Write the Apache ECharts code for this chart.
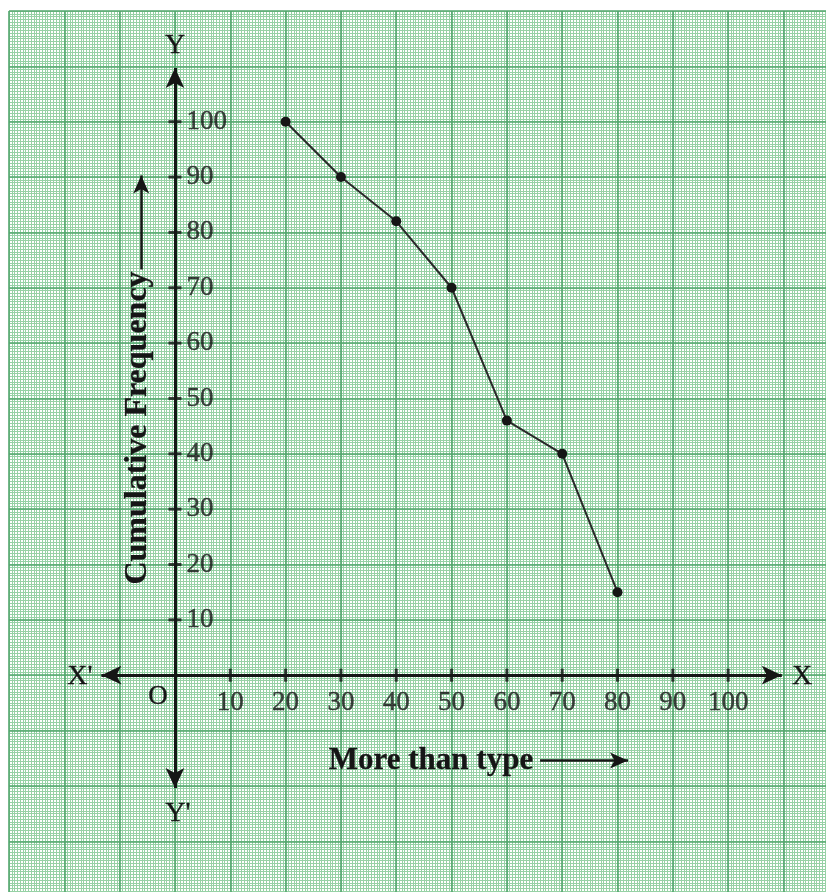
<!DOCTYPE html>
<html>
<head>
<meta charset="utf-8">
<script src="https://cdn.jsdelivr.net/npm/echarts@6/dist/echarts.min.js"></script>
<style>
html,body{margin:0;padding:0;background:#fff;}
#chart{width:826px;height:892px;}
</style>
</head>
<body>
<div id="chart"></div>
<script>
// ---- data ----
const moreThan = [20, 30, 40, 50, 60, 70, 80];
const cumulativeFrequency = [100, 90, 82, 70, 46, 40, 15];
const xTicks = [10, 20, 30, 40, 50, 60, 70, 80, 90, 100];
const yTicks = [10, 20, 30, 40, 50, 60, 70, 80, 90, 100];
const xTickLabels = ['10', '20', '30', '40', '50', '60', '70', '80', '90', '100'];
const yTickLabels = ['10', '20', '30', '40', '50', '60', '70', '80', '90', '100'];

const SERIF = '"Liberation Serif", "DejaVu Serif", serif';
const INK = '#161616';
const MINOR = '#96d1a5';
const MAJOR = '#52a66d';

const chart = echarts.init(document.getElementById('chart'), null, {renderer: 'canvas'});

function gridAxis(min, max, interval, color, width, z) {
  return {
    type: 'value', min: min, max: max, interval: interval, z: z,
    axisLine: {show: false}, axisTick: {show: false}, axisLabel: {show: false},
    splitLine: {show: true, lineStyle: {color: color, width: width}}
  };
}

function txt(x, y, s, font, rot) {
  return {
    type: 'text', x: x, y: y, z: 100, zlevel: 0, rotation: rot || 0, silent: true,
    style: {text: s, font: font, fill: INK, align: 'center', verticalAlign: 'middle',
            stroke: INK, lineWidth: 0.3}
  };
}

const tickLabelStyle = {
  fontFamily: SERIF, fontSize: 27, color: INK,
  textBorderColor: INK, textBorderWidth: 0.4
};

const option = {
  backgroundColor: '#ffffff',
  animation: false,
  grid: {left: 9, top: 11, width: 829.8, height: 885.6, containLabel: false, outerBoundsMode: 'none'},
  xAxis: [
    gridAxis(-30, 120, 0.5, MINOR, 1, 0),
    gridAxis(-30, 120, 10, MAJOR, 1.6, 1)
  ],
  yAxis: [
    gridAxis(-40, 120, 0.5, MINOR, 1, 0),
    gridAxis(-40, 120, 10, MAJOR, 1.6, 1)
  ],
  series: [
    {
      name: 'axes', type: 'line', data: [], z: 5, silent: true,
      markLine: {
        silent: true, animation: false,
        symbol: ['arrow', 'arrow'], symbolSize: [14, 20],
        label: {show: false},
        lineStyle: {color: INK, width: 3, type: 'solid'},
        data: [
          [{coord: [-13.3, 0]}, {coord: [109.7, 0]}],
          [{coord: [0, -20.4]}, {coord: [0, 109.7]}]
        ]
      }
    },
    {
      name: 'labelArrows', type: 'line', data: [], z: 5, silent: true,
      markLine: {
        silent: true, animation: false,
        symbol: ['none', 'arrow'], symbolSize: [12, 18],
        label: {show: false},
        lineStyle: {color: INK, width: 2.5, type: 'solid'},
        data: [
          [{coord: [-6.1, 73.3]}, {coord: [-6.1, 90.3]}],
          [{coord: [66, -15.4]}, {coord: [81.9, -15.4]}]
        ]
      }
    },
    {
      name: 'xTicks', type: 'scatter', z: 6, silent: true,
      data: xTicks.map(v => [v, 0]),
      symbol: 'rect', symbolSize: [3, 13],
      itemStyle: {color: INK},
      label: Object.assign({
        show: true, position: 'bottom', distance: 8,
        formatter: p => xTickLabels[p.dataIndex]
      }, tickLabelStyle)
    },
    {
      name: 'yTicks', type: 'scatter', z: 6, silent: true,
      data: yTicks.map(v => [0, v]),
      symbol: 'rect', symbolSize: [13, 3],
      itemStyle: {color: INK},
      label: Object.assign({
        show: true, position: 'right', distance: 5,
        formatter: p => yTickLabels[p.dataIndex]
      }, tickLabelStyle)
    },
    {
      name: 'Cumulative Frequency', type: 'line', z: 7,
      data: moreThan.map((x, i) => [x, cumulativeFrequency[i]]),
      symbol: 'circle', symbolSize: 10,
      itemStyle: {color: INK},
      lineStyle: {color: '#2a2a2a', width: 2}
    }
  ],
  graphic: {
    elements: [
      txt(175, 46, 'Y', '28px ' + SERIF),
      txt(178, 814, "Y'", '28px ' + SERIF),
      txt(80, 677, "X'", '28px ' + SERIF),
      txt(802, 677, 'X', '28px ' + SERIF),
      txt(158, 697, 'O', '27px ' + SERIF),
      txt(431, 761, 'More than type', 'bold 31px ' + SERIF),
      txt(138, 428, 'Cumulative Frequency', 'bold 32px ' + SERIF, Math.PI / 2)
    ]
  }
};
chart.setOption(option);
</script>
</body>
</html>
